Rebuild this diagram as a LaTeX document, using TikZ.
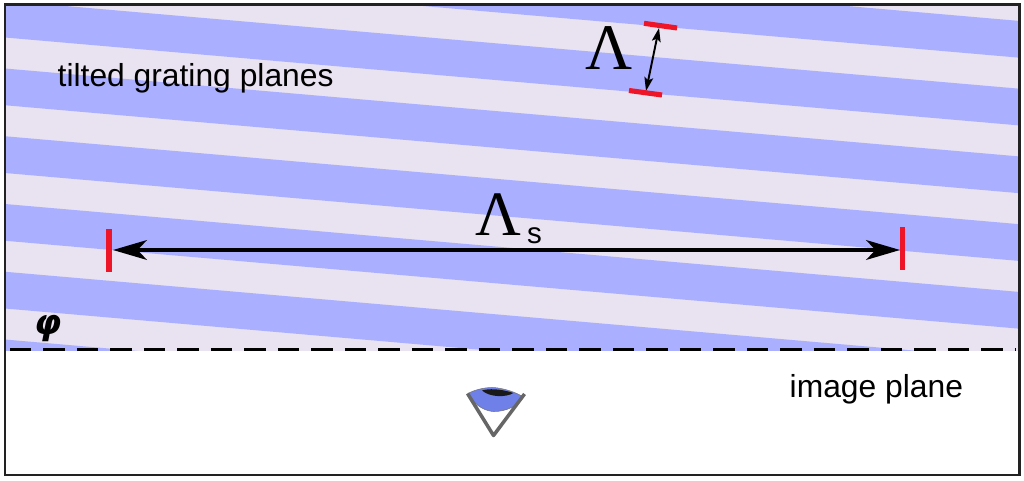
\documentclass[tikz,border=0pt]{standalone}
\usepackage{fontspec}
\setmainfont{Liberation Sans}
\newfontfamily\serifgreek{Liberation Serif}
\newfontfamily\phifont{DejaVu Sans}
\usetikzlibrary{arrows.meta}
\definecolor{bandblue}{HTML}{AAB0FF}
\definecolor{bandlight}{HTML}{E9E2F0}
\definecolor{barred}{HTML}{EE1528}
\definecolor{framegrey}{HTML}{222222}
\definecolor{eyeblue}{HTML}{6F80E8}
\definecolor{eyegrey}{HTML}{666666}
\tikzset{
  x=0.1cm,y=-0.1cm,
  band/.style={fill=bandblue,draw=none},
  redbar/.style={draw=barred,line width=1.45pt},
  bigarrow/.style={draw=black,line width=1pt,{Stealth[length=9.6pt,width=5.6pt,inset=2.6pt]}-{Stealth[length=9.6pt,width=5.6pt,inset=2.6pt]}},
  smallarrow/.style={draw=black,line width=0.55pt,{Stealth[length=3.9pt,width=2.5pt,inset=0.8pt]}-{Stealth[length=3.9pt,width=2.5pt,inset=0.8pt]}},
  lbl/.style={inner sep=0pt,text=black},
}
\begin{document}
\begin{tikzpicture}
\useasboundingbox (0,0) rectangle (102.4,48);
\fill[white] (0,0) rectangle (102.4,48);
% grating region
\begin{scope}
\clip (0.5,0.45) rectangle (101.95,35);
\fill[bandlight] (0,0) rectangle (102.4,48);
\foreach \i in {-1,0,1,2,3,4,5}{
  \pgfmathsetmacro{\ya}{0.075+6.775*\i}
  \pgfmathsetmacro{\yb}{3.75+6.775*\i}
  \fill[band] (0.5,\ya) -- (102,\ya+8.8) -- (102,\yb+8.8) -- (0.5,\yb) -- cycle;
}
\end{scope}
\coordinate (dl) at (1.0,34.97);
\coordinate (dr) at (101.5,34.97);
\draw[black,line width=1pt,dash pattern=on 6.1pt off 3.43pt] (dl) -- (dr);
% frame
\draw[framegrey,line width=0.6pt] (0.47,0.45) rectangle (101.95,47.5);
% long period
\coordinate (la) at (10.9,22.9);
\coordinate (lb) at (10.9,27.2);
\coordinate (ra) at (90.25,22.7);
\coordinate (rb) at (90.25,27);
\coordinate (al) at (11.3,25);
\coordinate (ar) at (90,25);
\draw[bigarrow] (al) -- (ar);
\draw[redbar] (la) -- (lb);
\draw[redbar] (ra) -- (rb);
% short period
\coordinate (ta) at (64.4,2.33);
\coordinate (tb) at (67.7,2.8);
\coordinate (ba) at (62.9,9.05);
\coordinate (bb) at (66.2,9.5);
\coordinate (sa) at (65.9,2.8);
\coordinate (sb) at (64.6,9.1);
\draw[smallarrow] (sa) -- (sb);
\draw[redbar] (ta) -- (tb);
\draw[redbar] (ba) -- (bb);
% labels
\node[lbl,font=\fontsize{18.5pt}{18.5pt}\serifgreek,anchor=base] (lam) at (60.95,6.93) {Λ};
\node[lbl,font=\fontsize{18pt}{18pt}\serifgreek,anchor=base] (lams) at (49.85,23.5) {Λ};
\node[lbl,font=\fontsize{8.4pt}{8.4pt}\selectfont,anchor=base west] (s) at (52.65,24.3) {s};
\node[lbl,font=\fontsize{9.05pt}{9.05pt}\selectfont,anchor=base west] (tg) at (5.7,8.7) {tilted grating planes};
\node[lbl,font=\fontsize{9.05pt}{9.05pt}\selectfont,anchor=base west] (ip) at (78.9,39.7) {image plane};
\node[lbl,font=\fontsize{9.9pt}{9.9pt}\phifont\bfseries\itshape] (phi) at (4.8,32.85) {φ};
% eye
\fill[eyeblue,draw=black!55,line width=0.15pt] (46.8,39.35) .. controls (47.6,40.8) and (48.8,41.15) .. (49.4,41.15) .. controls (50.6,41.15) and (51.8,40.6) .. (52.35,39.7) .. controls (51.2,39) and (49.8,38.75) .. (49.2,38.75) .. controls (48.4,38.75) and (47.4,39) .. cycle;
\fill[black!90] (48.2,39.05) .. controls (48.8,38.85) and (50,38.85) .. (51.35,39.3) .. controls (50.6,39.75) and (49,39.75) .. cycle;
\draw[eyegrey,line width=1pt,line join=round] (46.75,39.35) -- (49.35,43.55) -- (52.45,39.4);
\end{tikzpicture}
\end{document}
